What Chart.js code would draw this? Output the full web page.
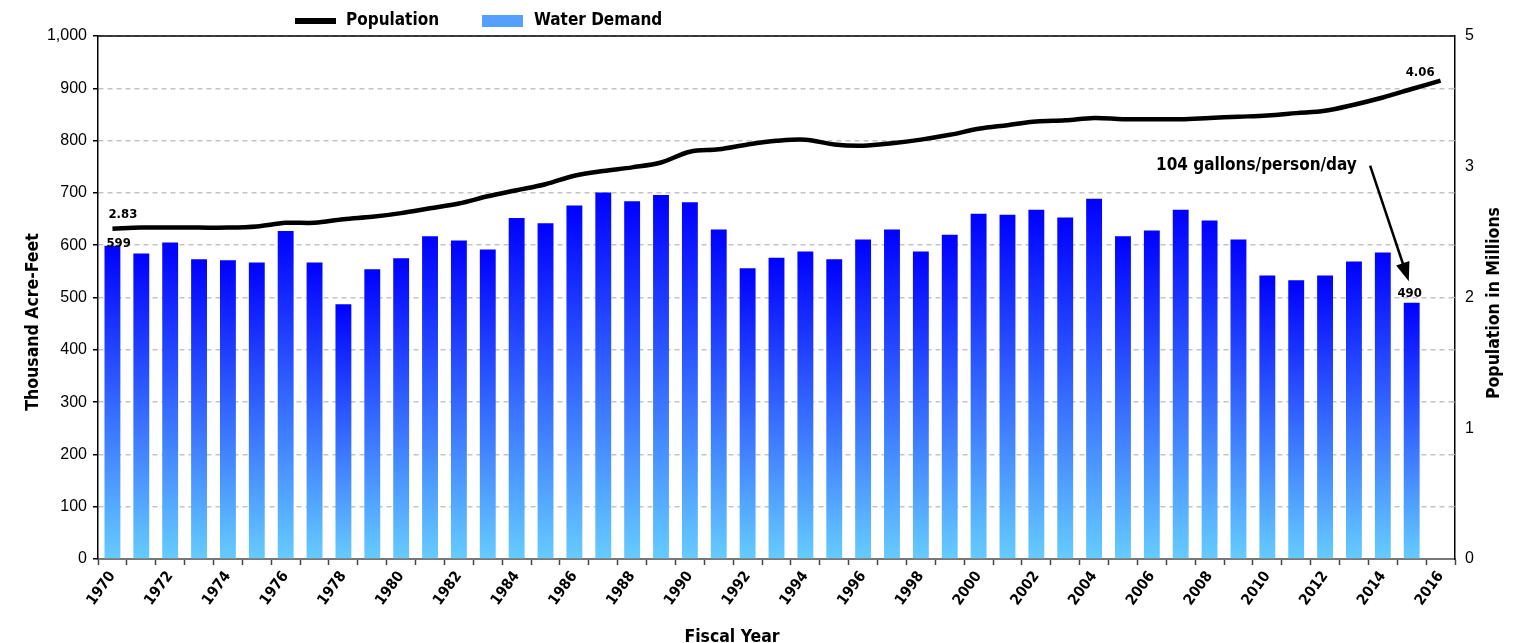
<!DOCTYPE html>
<html>
<head>
<meta charset="utf-8">
<script src="https://cdn.jsdelivr.net/npm/chart.js@4/dist/chart.umd.min.js"></script>
<style>
  html, body { margin: 0; padding: 0; background: #fff; }
  canvas { display: block; }
</style>
</head>
<body>
<canvas id="chart" width="1521" height="643"></canvas>
<script>
// 年度（1970〜2016）
const years = [];
for (let y = 1970; y <= 2016; y++) years.push(String(y));

// 水需要（千エーカーフィート）— 2016年は棒なし
const waterDemand = [
  599, 584, 605, 573, 571, 567, 627, 567, 487, 554,
  575, 617, 609, 592, 652, 642, 676, 701, 684, 696,
  682, 630, 556, 576, 588, 573, 611, 630, 588, 620,
  660, 658, 668, 653, 689, 617, 628, 668, 647, 611,
  542, 533, 542, 569, 586, 490, null
];

// 人口（百万人）
const population = [
  2.83, 2.84, 2.84, 2.84, 2.84, 2.85, 2.88, 2.88, 2.91, 2.93,
  2.96, 3.00, 3.04, 3.10, 3.15, 3.20, 3.27, 3.31, 3.34, 3.38,
  3.47, 3.49, 3.53, 3.56, 3.57, 3.53, 3.52, 3.54, 3.57, 3.61,
  3.66, 3.69, 3.72, 3.73, 3.75, 3.74, 3.74, 3.74, 3.75, 3.76,
  3.77, 3.79, 3.81, 3.86, 3.92, 3.99, 4.06
];

// 右軸の目盛ラベル（元図のとおり最上段は「5」）
const rightTickLabels = ['0', '1', '2', '3', '5'];

const boldFont = "'DejaVu Sans Condensed', 'Liberation Sans Narrow', 'DejaVu Sans', sans-serif";
const tickFont = "'Liberation Sans', Arial, sans-serif";

// 棒ごとのグラデーション
function barGradient(c) {
  const chart = c.chart;
  const area = chart.chartArea;
  if (!area || c.type !== 'data' || c.raw == null) return '#3070ff';
  const yScale = chart.scales.y;
  const top = yScale.getPixelForValue(c.raw);
  const bottom = yScale.getPixelForValue(0);
  const g = chart.ctx.createLinearGradient(0, top, 0, bottom);
  g.addColorStop(0, '#0000ff');
  g.addColorStop(1, '#66ccff');
  return g;
}

// 凡例・軸タイトル・注記の描画
const decorPlugin = {
  id: 'decor',
  afterDraw(chart) {
    const { ctx, chartArea, scales } = chart;
    const x = scales.x, y = scales.y;
    ctx.save();

    // 上端の枠線
    ctx.strokeStyle = '#000';
    ctx.lineWidth = 1.5;
    ctx.beginPath();
    ctx.moveTo(chartArea.left, chartArea.top);
    ctx.lineTo(chartArea.right, chartArea.top);
    ctx.stroke();

    // 右軸の小さな目盛
    ctx.strokeStyle = '#bbb';
    ctx.lineWidth = 1;
    for (let v = 100; v < 1000; v += 100) {
      const py = y.getPixelForValue(v);
      ctx.beginPath();
      ctx.moveTo(chartArea.right - 3, py);
      ctx.lineTo(chartArea.right, py);
      ctx.stroke();
    }

    // 凡例
    ctx.fillStyle = '#000';
    ctx.fillRect(295, 18, 41, 6);
    ctx.fillStyle = '#55a0ff';
    ctx.fillRect(482, 15, 41, 12);
    ctx.fillStyle = '#000';
    ctx.font = 'bold 17px ' + boldFont;
    ctx.textBaseline = 'middle';
    ctx.textAlign = 'left';
    ctx.fillText('Population', 346, 21);
    ctx.fillText('Water Demand', 534, 21);

    // 軸タイトル
    ctx.font = 'bold 17.5px ' + boldFont;
    ctx.textAlign = 'center';
    ctx.fillText('Fiscal Year', 732, 637);
    ctx.save();
    ctx.translate(33, 322);
    ctx.rotate(-Math.PI / 2);
    ctx.fillText('Thousand Acre-Feet', 0, 0);
    ctx.restore();
    ctx.save();
    ctx.translate(1494, 303);
    ctx.rotate(-Math.PI / 2);
    ctx.fillText('Population in Millions', 0, 0);
    ctx.restore();

    // データラベル
    const bars = chart.getDatasetMeta(1).data;
    const pts = chart.getDatasetMeta(0).data;
    const lastBar = waterDemand.length - 2;
    ctx.font = 'bold 13px ' + boldFont;
    ctx.textBaseline = 'alphabetic';
    ctx.textAlign = 'left';
    ctx.fillText(String(waterDemand[0]), bars[0].x - 6, bars[0].y + 1);
    ctx.fillText(population[0].toFixed(2), pts[0].x - 4, pts[0].y - 11);
    ctx.textAlign = 'center';
    ctx.fillText(String(waterDemand[lastBar]), bars[lastBar].x - 2, bars[lastBar].y - 6);
    ctx.textAlign = 'right';
    const lp = pts[pts.length - 1];
    ctx.fillText(population[population.length - 1].toFixed(2), lp.x - 6, lp.y - 5);

    // 注記と矢印
    ctx.font = 'bold 17px ' + boldFont;
    ctx.textBaseline = 'middle';
    ctx.textAlign = 'right';
    ctx.fillText('104 gallons/person/day', x.getPixelForValue(43.1), y.getPixelForValue(753));
    const x0 = x.getPixelForValue(43.56), y0 = y.getPixelForValue(752);
    const x1 = x.getPixelForValue(44.9), y1 = y.getPixelForValue(531);
    const ang = Math.atan2(y1 - y0, x1 - x0);
    ctx.strokeStyle = '#000';
    ctx.lineWidth = 2.5;
    ctx.beginPath();
    ctx.moveTo(x0, y0);
    ctx.lineTo(x1 - 14 * Math.cos(ang), y1 - 14 * Math.sin(ang));
    ctx.stroke();
    ctx.beginPath();
    ctx.moveTo(x1, y1);
    ctx.lineTo(x1 - 19 * Math.cos(ang) + 7 * Math.sin(ang), y1 - 19 * Math.sin(ang) - 7 * Math.cos(ang));
    ctx.lineTo(x1 - 19 * Math.cos(ang) - 7 * Math.sin(ang), y1 - 19 * Math.sin(ang) + 7 * Math.cos(ang));
    ctx.closePath();
    ctx.fillStyle = '#000';
    ctx.fill();

    ctx.restore();
  }
};

new Chart(document.getElementById('chart'), {
  type: 'bar',
  data: {
    labels: years,
    datasets: [
      {
        // 人口の折れ線
        type: 'line',
        label: 'Population',
        data: population,
        yAxisID: 'yPop',
        borderColor: '#000',
        borderWidth: 4.5,
        tension: 0.35,
        pointRadius: 0,
        fill: false,
        order: 0
      },
      {
        // 水需要の棒グラフ
        label: 'Water Demand',
        data: waterDemand,
        yAxisID: 'y',
        backgroundColor: barGradient,
        barPercentage: 0.55,
        categoryPercentage: 1.0,
        order: 1
      }
    ]
  },
  options: {
    responsive: false,
    animation: false,
    layout: { padding: { top: 36, left: 0, right: 0, bottom: 0 } },
    plugins: {
      legend: { display: false },
      tooltip: { enabled: false }
    },
    scales: {
      x: {
        offset: true,
        grid: {
          offset: true,
          drawOnChartArea: false,
          tickLength: 6,
          tickColor: '#444',
          tickWidth: 1.5
        },
        border: { color: '#777', width: 2 },
        ticks: {
          autoSkip: false,
          minRotation: 54,
          maxRotation: 54,
          color: '#000',
          font: { family: boldFont, size: 15, weight: 'bold' },
          callback: (v, i) => (i % 2 === 0 ? years[i] : '')
        },
        afterFit: (s) => { s.height = 84; }
      },
      y: {
        position: 'left',
        min: 0,
        max: 1000,
        ticks: {
          stepSize: 100,
          color: '#000',
          padding: 6,
          font: { family: tickFont, size: 16 },
          callback: (v) => v.toLocaleString('en-US')
        },
        grid: {
          color: '#c4c4c4',
          lineWidth: 1.5,
          tickColor: '#000',
          tickLength: 5
        },
        border: { color: '#000', width: 1.5, dash: [5, 4] },
        afterFit: (s) => { s.width = 98; }
      },
      y1: {
        position: 'right',
        min: 0,
        max: 4,
        ticks: {
          stepSize: 1,
          color: '#000',
          padding: 10,
          font: { family: tickFont, size: 16 },
          callback: (v, i) => rightTickLabels[i]
        },
        grid: { drawOnChartArea: false, drawTicks: false },
        border: { color: '#000', width: 1.5 },
        afterFit: (s) => { s.width = 66; }
      },
      yPop: {
        display: false,
        min: 0.09,
        max: 4.43
      }
    }
  },
  plugins: [decorPlugin]
});
</script>
</body>
</html>
